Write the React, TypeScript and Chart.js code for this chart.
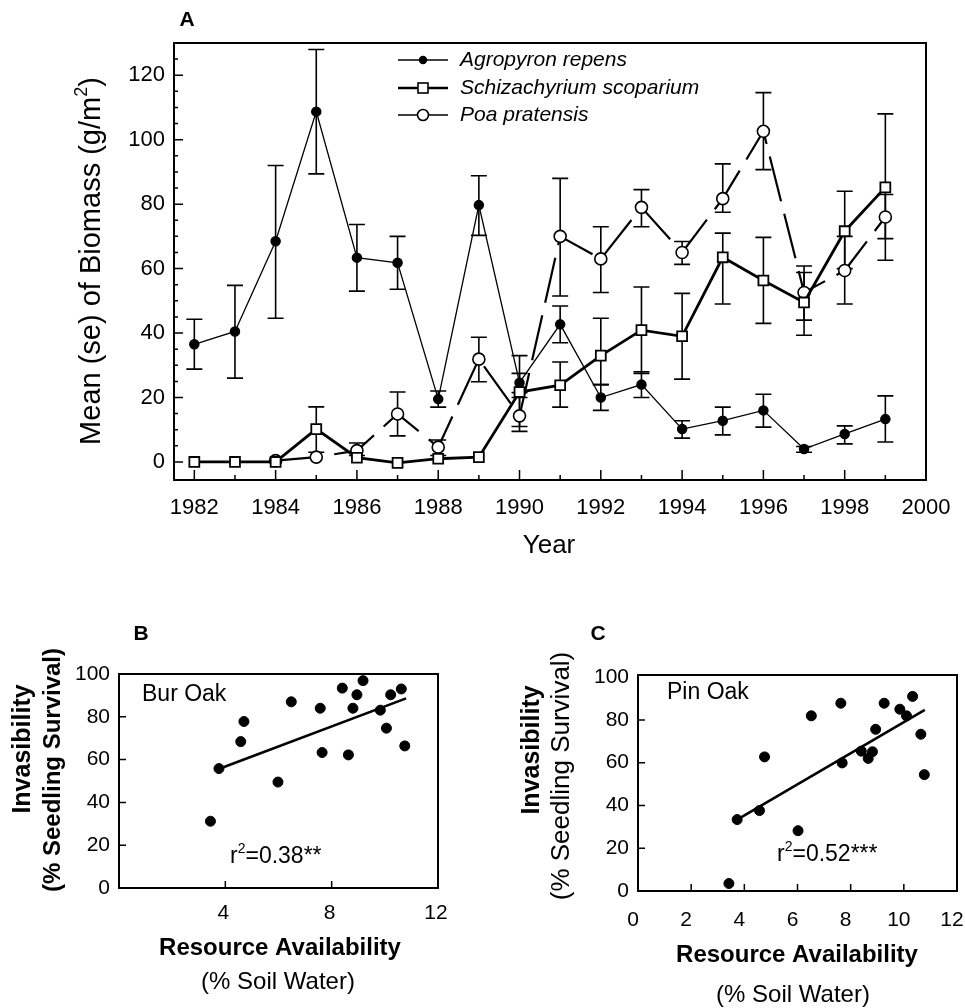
import React, { useEffect, useRef } from 'react';
import { Chart, registerables } from 'chart.js';

Chart.register(...registerables);

const FONT = '"Liberation Sans", Arial, Helvetica, sans-serif';

// ---------- Panel A data ----------
const years = [1982, 1983, 1984, 1985, 1986, 1987, 1988, 1989, 1990, 1991, 1992, 1993, 1994, 1995, 1996, 1997, 1998, 1999];
const agroMean = [36.5, 40.5, 68.5, 108.7, 63.4, 61.8, 19.5, 79.7, 24.6, 42.7, 20, 24, 10.2, 12.8, 16, 4, 8.7, 13.3];
const agroLo = [28.8, 26, 44.6, 89.4, 53, 53.6, 17, 70.3, 21.5, 37, 16, 20, 7.4, 8.4, 10.8, 3, 5.6, 6.2];
const agroHi = [44.3, 54.8, 92, 128, 73.7, 70, 22, 88.8, 27.5, 48.4, 24, 28, 12.8, 17, 21, 4.8, 11.2, 20.5];
const schizMean = [0, 0, 0, 10.2, 1.3, -0.3, 1, 1.5, 21.7, 23.8, 33, 40.9, 39, 63.5, 56.3, 49.5, 71.6, 85.2];
const schizLo = [0, 0, 0, 3, 1.3, -0.3, 1, 1.5, 11, 17, 24, 27.5, 25.7, 49, 43, 39.3, 60, 62.6];
const schizHi = [0, 0, 0, 17.1, 1.3, -0.3, 1, 1.5, 33, 31, 44.6, 54.3, 52.3, 71, 69.7, 60.8, 84, 108];
const poaMean = [null, null, 0.4, 1.5, 3.5, 14.9, 4.6, 31.9, 14.3, 70, 63, 79, 65, 81.7, 102.6, 52.6, 59.4, 76];
const poaLo = [null, null, null, null, 2, 8.1, 2, 24.9, 9.5, 51.5, 52.6, 73, 61.3, 77.5, 90.7, 44, 49, 69.3];
const poaHi = [null, null, null, null, 5.9, 21.7, 6.8, 38.7, 20, 88, 73, 84.5, 68.4, 92.5, 114.6, 58.8, 70, 83];
const yearTicks = [1982, 1984, 1986, 1988, 1990, 1992, 1994, 1996, 1998, 2000];
const biomassTicks = [0, 20, 40, 60, 80, 100, 120];
const legendNames = ['Agropyron repens', 'Schizachyrium scoparium', 'Poa pratensis'];

// ---------- Panel B data (Bur Oak) ----------
const burX = [3.44, 3.76, 4.58, 4.7, 5.98, 6.48, 7.57, 7.64, 8.4, 8.63, 8.8, 8.95, 9.18, 9.83, 10.06, 10.22, 10.62, 10.75];
const burY = [31.2, 55.8, 68.4, 77.8, 49.5, 87, 84, 63.3, 93.4, 62.2, 84, 90.3, 96.9, 83.1, 74.7, 90.3, 93, 66.4];
const burFitX = [3.8, 10.8];
const burFitY = [55.8, 88.6];
const burXTicks = [4, 8, 12];

// ---------- Panel C data (Pin Oak) ----------
const pinX = [3.42, 3.73, 4.57, 4.76, 6.02, 6.52, 7.63, 7.68, 8.4, 8.66, 8.82, 8.94, 9.26, 9.85, 10.1, 10.33, 10.64, 10.77];
const pinY = [3.5, 33.4, 37.6, 62.7, 28.2, 81.9, 87.8, 59.9, 65.4, 62, 65.1, 75.6, 87.8, 85, 81.9, 91, 73.3, 54.4];
const pinFitX = [3.57, 10.79];
const pinFitY = [32.2, 84.7];
const pinXTicks = [0, 2, 4, 6, 8, 10, 12];
const survivalTicks = [0, 20, 40, 60, 80, 100];

type Part = { t: string; sup?: boolean };

function drawParts(ctx: CanvasRenderingContext2D, parts: Part[], x: number, y: number, size: number, weight: string, align: 'left' | 'center') {
  const supSize = Math.round(size * 0.62);
  const widths = parts.map((p) => {
    ctx.font = `${weight} ${p.sup ? supSize : size}px ${FONT}`;
    return ctx.measureText(p.t).width;
  });
  const total = widths.reduce((a, b) => a + b, 0);
  let cx = align === 'center' ? x - total / 2 : x;
  ctx.textAlign = 'left';
  ctx.textBaseline = 'middle';
  parts.forEach((p, i) => {
    ctx.font = `${weight} ${p.sup ? supSize : size}px ${FONT}`;
    ctx.fillText(p.t, cx, p.sup ? y - size * 0.36 : y);
    cx += widths[i];
  });
}

function drawText(ctx: CanvasRenderingContext2D, text: string, x: number, y: number, font: string, align: CanvasTextAlign = 'center', rotate = false) {
  ctx.save();
  ctx.font = font;
  ctx.fillStyle = '#000';
  ctx.textAlign = align;
  ctx.textBaseline = 'middle';
  ctx.translate(x, y);
  if (rotate) ctx.rotate(-Math.PI / 2);
  ctx.fillText(text, 0, 0);
  ctx.restore();
}

function drawFrame(chart: any) {
  const { ctx, chartArea: a } = chart;
  ctx.save();
  ctx.strokeStyle = '#000';
  ctx.lineWidth = 2;
  ctx.strokeRect(a.left, a.top, a.right - a.left, a.bottom - a.top);
  ctx.restore();
}

function drawInwardTicks(chart: any, xVals: number[], xLen: (v: number) => number, yVals: number[], yLen: (v: number) => number) {
  const { ctx, chartArea: a } = chart;
  const xs = chart.scales.x;
  const ys = chart.scales.y;
  ctx.save();
  ctx.strokeStyle = '#000';
  ctx.lineWidth = 1.5;
  ctx.beginPath();
  xVals.forEach((v) => {
    const px = xs.getPixelForValue(v);
    ctx.moveTo(px, a.bottom);
    ctx.lineTo(px, a.bottom - xLen(v));
  });
  yVals.forEach((v) => {
    const py = ys.getPixelForValue(v);
    ctx.moveTo(a.left, py);
    ctx.lineTo(a.left + yLen(v), py);
  });
  ctx.stroke();
  ctx.restore();
}

// ---------- Panel A plugin ----------
const panelAPlugin = {
  id: 'panelA',
  beforeDatasetsDraw(chart: any) {
    const { ctx } = chart;
    const xs = chart.scales.x;
    const ys = chart.scales.y;
    ctx.save();
    ctx.strokeStyle = '#000';
    ctx.lineWidth = 1.6;
    const series: [Array<number | null>, Array<number | null>][] = [
      [agroLo, agroHi],
      [schizLo, schizHi],
      [poaLo, poaHi],
    ];
    series.forEach(([lo, hi]) => {
      years.forEach((yr, i) => {
        const l = lo[i];
        const h = hi[i];
        if (l == null || h == null || l === h) return;
        const px = xs.getPixelForValue(yr);
        const p1 = ys.getPixelForValue(l);
        const p2 = ys.getPixelForValue(h);
        ctx.beginPath();
        ctx.moveTo(px, p1);
        ctx.lineTo(px, p2);
        ctx.moveTo(px - 8, p1);
        ctx.lineTo(px + 8, p1);
        ctx.moveTo(px - 8, p2);
        ctx.lineTo(px + 8, p2);
        ctx.stroke();
      });
    });
    ctx.restore();
  },
  afterDraw(chart: any) {
    const { ctx } = chart;
    drawFrame(chart);
    const xMinor: number[] = [];
    for (let v = 1982; v <= 2000; v++) xMinor.push(v);
    const yMinor: number[] = [];
    for (let v = 0; v <= 125; v += 5) yMinor.push(v);
    drawInwardTicks(chart, xMinor, (v) => (v % 2 === 0 ? 10 : 5), yMinor, (v) => (v % 20 === 0 ? 9 : 4));

    // panel letter
    drawText(ctx, 'A', 187, 20, `bold 21px ${FONT}`);
    // x title
    drawText(ctx, 'Year', 549, 546, `26px ${FONT}`);
    // y title with superscript
    ctx.save();
    ctx.fillStyle = '#000';
    ctx.translate(92, 261);
    ctx.rotate(-Math.PI / 2);
    drawParts(ctx, [{ t: 'Mean (se) of Biomass (g/m' }, { t: '2', sup: true }, { t: ')' }], 0, 0, 29, 'normal', 'center');
    ctx.restore();

    // legend
    const rows = [60, 88, 115];
    ctx.save();
    ctx.strokeStyle = '#000';
    ctx.fillStyle = '#000';
    rows.forEach((ry, i) => {
      ctx.beginPath();
      ctx.lineWidth = i === 1 ? 2.6 : 1.6;
      ctx.moveTo(398, ry);
      ctx.lineTo(448, ry);
      ctx.stroke();
      ctx.lineWidth = 1.6;
      if (i === 0) {
        ctx.beginPath();
        ctx.arc(423, ry, 4.2, 0, Math.PI * 2);
        ctx.fill();
      } else if (i === 1) {
        ctx.fillStyle = '#fff';
        ctx.fillRect(418, ry - 5, 10, 10);
        ctx.strokeRect(418, ry - 5, 10, 10);
        ctx.fillStyle = '#000';
      } else {
        ctx.beginPath();
        ctx.arc(423, ry, 5.5, 0, Math.PI * 2);
        ctx.fillStyle = '#fff';
        ctx.fill();
        ctx.stroke();
        ctx.fillStyle = '#000';
      }
      drawText(ctx, legendNames[i], 460, ry, `italic 21px ${FONT}`, 'left');
    });
    ctx.restore();
  },
};

// ---------- Panel B / C plugin factory ----------
function scatterPlugin(opts: {
  offX: number;
  offY: number;
  letter: [string, number, number];
  label: [string, number, number];
  r2: [string, string, number, number];
  title1: [number, number];
  title2: [number, number, string, number];
  xTitle: [number, number];
  xSub: [number, number];
  xTickVals: number[];
}) {
  return {
    id: 'scatterPanel',
    afterDraw(chart: any) {
      const { ctx } = chart;
      const o = (x: number, y: number): [number, number] => [x - opts.offX, y - opts.offY];
      drawFrame(chart);
      drawInwardTicks(chart, opts.xTickVals, () => 7, [20, 40, 60, 80], () => 7);
      let p = o(opts.letter[1], opts.letter[2]);
      drawText(ctx, opts.letter[0], p[0], p[1], `bold 21px ${FONT}`);
      p = o(opts.label[1], opts.label[2]);
      drawText(ctx, opts.label[0], p[0], p[1], `23px ${FONT}`, 'left');
      p = o(opts.r2[2], opts.r2[3]);
      ctx.save();
      ctx.fillStyle = '#000';
      drawParts(ctx, [{ t: 'r' }, { t: '2', sup: true }, { t: opts.r2[1] }], p[0], p[1], 23, 'normal', 'left');
      ctx.restore();
      p = o(opts.title1[0], opts.title1[1]);
      drawText(ctx, 'Invasibility', p[0], p[1], `bold 25px ${FONT}`, 'center', true);
      p = o(opts.title2[0], opts.title2[1]);
      drawText(ctx, '(% Seedling Survival)', p[0], p[1], `${opts.title2[2]} ${opts.title2[3]}px ${FONT}`, 'center', true);
      p = o(opts.xTitle[0], opts.xTitle[1]);
      drawText(ctx, 'Resource Availability', p[0], p[1], `bold 24px ${FONT}`);
      p = o(opts.xSub[0], opts.xSub[1]);
      drawText(ctx, '(% Soil Water)', p[0], p[1], `24px ${FONT}`);
    },
  };
}

function fixedScale(size: number, horizontal: boolean) {
  return (s: any) => {
    if (horizontal) s.height = size;
    else s.width = size;
    s.paddingLeft = 0;
    s.paddingRight = 0;
    s.paddingTop = 0;
    s.paddingBottom = 0;
  };
}

function tickSetter(vals: number[]) {
  return (s: any) => {
    s.ticks = vals.map((v) => ({ value: v }));
  };
}

const tickFont = { family: FONT, size: 21 };

function buildA() {
  return {
    type: 'line' as const,
    data: {
      datasets: [
        {
          data: years.map((x, i) => ({ x, y: agroMean[i] })),
          borderColor: '#000',
          borderWidth: 1.3,
          pointRadius: 4.6,
          pointStyle: 'circle',
          pointBackgroundColor: '#000',
          pointBorderColor: '#000',
          order: 0,
        },
        {
          data: years.map((x, i) => ({ x, y: schizMean[i] })),
          borderColor: '#000',
          borderWidth: 2.8,
          pointRadius: 7,
          pointStyle: 'rect',
          pointBackgroundColor: '#fff',
          pointBorderColor: '#000',
          pointBorderWidth: 1.8,
          order: 1,
        },
        {
          data: years.map((x, i) => ({ x, y: poaMean[i] })).filter((d) => d.y != null),
          borderColor: '#000',
          borderWidth: 2.2,
          borderDash: [46, 13],
          pointRadius: 6,
          pointStyle: 'circle',
          pointBackgroundColor: '#fff',
          pointBorderColor: '#000',
          pointBorderWidth: 1.6,
          order: 2,
        },
      ],
    },
    options: {
      responsive: false,
      maintainAspectRatio: false,
      animation: false as const,
      events: [],
      layout: { padding: { left: 74, right: 39, top: 43, bottom: 40 } },
      plugins: { legend: { display: false }, tooltip: { enabled: false } },
      scales: {
        x: {
          type: 'linear' as const,
          min: 1981.5,
          max: 2000,
          grid: { display: false, drawTicks: false },
          border: { display: false },
          afterBuildTicks: tickSetter(yearTicks),
          afterFit: fixedScale(60, true),
          ticks: { font: { family: FONT, size: 22 }, color: '#000', padding: 15, maxRotation: 0, autoSkip: false, callback: (v: any) => String(v) },
        },
        y: {
          type: 'linear' as const,
          min: -5.6,
          max: 130,
          grid: { display: false, drawTicks: false },
          border: { display: false },
          afterBuildTicks: tickSetter(biomassTicks),
          afterFit: fixedScale(100, false),
          ticks: { font: { family: FONT, size: 22 }, color: '#000', padding: 9, callback: (v: any) => String(v) },
        },
      },
    },
    plugins: [panelAPlugin],
  };
}

function buildScatter(
  xs: number[],
  ys: number[],
  fx: number[],
  fy: number[],
  xTicks: number[],
  yMax: number,
  padding: { left: number; right: number; top: number; bottom: number },
  xPad: number,
  xLabelOffset: number,
  plugin: any
) {
  return {
    type: 'scatter' as const,
    data: {
      datasets: [
        {
          data: xs.map((x, i) => ({ x, y: ys[i] })),
          pointRadius: 5,
          pointBackgroundColor: '#000',
          pointBorderColor: '#000',
          showLine: false,
          order: 1,
        },
        {
          data: fx.map((x, i) => ({ x, y: fy[i] })),
          borderColor: '#000',
          borderWidth: 2.6,
          pointRadius: 0,
          showLine: true,
          order: 0,
        },
      ],
    },
    options: {
      responsive: false,
      maintainAspectRatio: false,
      animation: false as const,
      events: [],
      layout: { padding },
      plugins: { legend: { display: false }, tooltip: { enabled: false } },
      scales: {
        x: {
          type: 'linear' as const,
          min: 0,
          max: 12,
          grid: { display: false, drawTicks: false },
          border: { display: false },
          afterBuildTicks: tickSetter(xTicks),
          afterFit: fixedScale(50, true),
          ticks: { font: tickFont, color: '#000', padding: xPad, labelOffset: xLabelOffset, maxRotation: 0, autoSkip: false, callback: (v: any) => String(v) },
        },
        y: {
          type: 'linear' as const,
          min: 0,
          max: yMax,
          grid: { display: false, drawTicks: false },
          border: { display: false },
          afterBuildTicks: tickSetter(survivalTicks),
          afterFit: fixedScale(60, false),
          ticks: { font: tickFont, color: '#000', padding: 9, callback: (v: any) => String(v) },
        },
      },
    },
    plugins: [plugin],
  };
}

function ChartCanvas({ left, top, width, height, build }: { left: number; top: number; width: number; height: number; build: () => any }) {
  const ref = useRef<HTMLCanvasElement>(null);
  useEffect(() => {
    const chart = new Chart(ref.current as HTMLCanvasElement, build());
    return () => chart.destroy();
  }, []);
  return <canvas ref={ref} width={width} height={height} style={{ position: 'absolute', left, top, width, height }} />;
}

export default function App() {
  const buildB = () =>
    buildScatter(
      burX,
      burY,
      burFitX,
      burFitY,
      burXTicks,
      100,
      { left: 59, right: 44, top: 74, bottom: 70 },
      13,
      -2,
      scatterPlugin({
        offX: 0,
        offY: 600,
        letter: ['B', 141, 634],
        label: ['Bur Oak', 142, 695],
        r2: ['', '=0.38**', 230, 857],
        title1: [23, 749],
        title2: [53, 770, 'bold', 24],
        xTitle: [280, 948],
        xSub: [278, 982],
        xTickVals: [4, 8],
      })
    );
  const buildC = () =>
    buildScatter(
      pinX,
      pinY,
      pinFitX,
      pinFitY,
      pinXTicks,
      101,
      { left: 96, right: 8, top: 75, bottom: 67 },
      17,
      -5,
      scatterPlugin({
        offX: 482,
        offY: 600,
        letter: ['C', 598, 634],
        label: ['Pin Oak', 667, 693],
        r2: ['', '=0.52***', 777, 855],
        title1: [532, 750],
        title2: [562, 776, 'normal', 26],
        xTitle: [797, 955],
        xSub: [793, 995],
        xTickVals: [2, 4, 6, 8, 10],
      })
    );
  return (
    <div style={{ position: 'absolute', left: 0, top: 0, width: 965, height: 1008, background: '#fff', overflow: 'hidden' }}>
      <ChartCanvas left={0} top={0} width={965} height={580} build={buildA} />
      <ChartCanvas left={0} top={600} width={482} height={408} build={buildB} />
      <ChartCanvas left={482} top={600} width={483} height={408} build={buildC} />
    </div>
  );
}
